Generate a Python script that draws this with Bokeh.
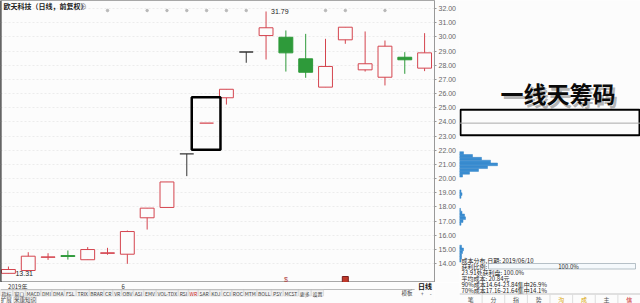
from bokeh.plotting import figure
from bokeh.layouts import row, column
from bokeh.models import (ColumnDataSource, FixedTicker, NumeralTickFormatter,
                          BoxAnnotation, Span, Range1d)
from bokeh.core.properties import value
from bokeh.embed import file_html
from bokeh.resources import INLINE

# ---------------- daily bars (forward-adjusted) ----------------
opens  = [13.31, 13.51, 14.44, 14.56, 14.27, 14.72, 14.66, 17.23, 17.96, 21.74, 23.91,
          25.70, 28.93, 30.09, 29.97, 28.45, 26.45, 29.79, 27.67, 27.15, 28.56, 27.79]
highs  = [13.79, 14.80, 14.73, 14.92, 15.16, 15.11, 16.33, 17.91, 19.76, 21.74, 23.91,
          26.30, 28.93, 31.79, 30.45, 30.21, 29.86, 30.68, 30.38, 29.74, 28.92, 30.26]
lows   = [13.31, 13.51, 14.26, 14.28, 14.27, 14.62, 13.98, 16.40, 17.96, 20.17, 23.91,
          25.22, 28.17, 28.40, 27.55, 27.11, 26.45, 29.51, 27.55, 26.57, 27.39, 27.58]
closes = [13.58, 14.52, 14.47, 14.50, 14.99, 14.76, 16.26, 17.91, 19.76, 21.74, 23.91,
          26.30, 28.93, 30.64, 28.87, 27.50, 27.91, 30.68, 28.10, 29.34, 28.38, 28.87]

date_ticks = [0, 6]
date_labels = ["2019年", "6"]
price_ticks = list(range(14, 33))

info_mark_idx = [5, 7, 8, 9, 10, 11, 12, 16, 17, 19]
dividend_idx = [14]
notice_idx = [17]

highlight_idx = 10
highlight_lo, highlight_hi = 22.03, 25.74

# ---------------- cost (chip) distribution on 2019/06/10 ----------------
chip_prices = [14.2, 14.4, 14.6, 14.8, 15.0, 15.2,
               16.8, 17.0, 17.2, 17.4, 17.6, 17.8,
               18.7, 18.9, 19.1,
               20.2, 20.4, 20.6, 20.8, 21.0, 21.2, 21.4, 21.6, 21.8]
chip_volume = [1.5, 2, 2, 3, 4, 2,
               1.5, 3.5, 6, 5, 2.5, 1,
               1.5, 2.5, 1.5,
               3, 10, 19, 28, 38, 31, 22, 13, 4]
chip_date = "2019/06/10"
chip_price = 23.91
chip_band = (23.05, 24.85)
profit_ratio = 100.0
avg_cost = 20.84
cost90 = (14.64, 23.84, 26.9)
cost70 = (17.16, 21.64, 14.1)

toolbar_items = ["指标", "窗口", "MACD", "DMI", "DMA", "FSL", "TRIX", "BRAR", "CR", "VR",
                 "OBV", "ASI", "EMV", "VOL-TDX", "RSI", "WR", "SAR", "KDJ", "CCI", "ROC",
                 "MTM", "BOLL", "PSY", "MCST", "更多", "设置"]
right_tabs = ["笔", "分", "指", "势", "沟", "成", "主", "信"]

# ---------------- layout constants ----------------
W, H = 640, 303
MAIN_W, MAIN_H = 459, 282
CHIP_W = W - MAIN_W
FRAME_W = 438
STEP = 20.0            # pixels per bar
X_START = -0.4
TOP_PRICE, TOP_PX, PX_PER = 32.0, 8.0, 14.17

UP, DOWN, FLAT = "#d4444e", "#2e9a3a", "#333333"
BG = "#fcfcfc"
CJK = value("Noto Sans CJK SC")
LAT = value("Liberation Sans")


def price_at(px):
    return TOP_PRICE - (px - TOP_PX) / PX_PER


def bx(px):
    return X_START + px / STEP


def bar_color(o, h, l, c):
    if c > o or h == l:
        return UP
    if c < o:
        return DOWN
    return FLAT


n = len(opens)
idx = list(range(n))
colors = [bar_color(o, h, l, c) for o, h, l, c in zip(opens, highs, lows, closes)]

# ---------------- main candlestick panel ----------------
p = figure(width=MAIN_W, height=MAIN_H,
           x_range=Range1d(X_START, X_START + FRAME_W / STEP),
           y_range=Range1d(price_at(MAIN_H), price_at(0)),
           x_axis_location=None, y_axis_location="right",
           toolbar_location=None, output_backend="svg", min_border=0,
           background_fill_color=BG, border_fill_color=BG,
           outline_line_color="#a8a8a8")
p.xgrid.visible = False
p.ygrid.ticker = FixedTicker(ticks=price_ticks)
p.ygrid.grid_line_color = "#ececec"
p.ygrid.grid_line_dash = "2 2"

ax = p.yaxis[0]
ax.ticker = FixedTicker(ticks=price_ticks)
ax.formatter = NumeralTickFormatter(format="0.00")
ax.major_label_text_font = "Liberation Sans"
ax.major_label_text_font_size = "7px"
ax.major_label_text_color = "#666666"
ax.major_label_standoff = 2
ax.major_tick_out = 2
ax.major_tick_in = 0
ax.minor_tick_out = 0
ax.minor_tick_in = 0
ax.axis_line_color = "#999999"
ax.major_tick_line_color = "#999999"

p.add_layout(Span(location=X_START, dimension="height", line_color="#222222", line_width=2))

# wicks
p.segment(x0=idx, y0=lows, x1=idx, y1=highs, line_color=colors, line_width=1)

# bodies
body = dict(x=[], top=[], bottom=[], line=[], fill=[])
flat = dict(x0=[], x1=[], y=[], color=[])
for i in idx:
    o, c, col = opens[i], closes[i], colors[i]
    if o != c:
        body["x"].append(i)
        body["top"].append(max(o, c))
        body["bottom"].append(min(o, c))
        body["line"].append(col)
        body["fill"].append(BG if col == UP else col)
    else:
        flat["x0"].append(i - 0.35)
        flat["x1"].append(i + 0.35)
        flat["y"].append(c)
        flat["color"].append(col)
p.vbar(x="x", top="top", bottom="bottom", width=0.7, source=ColumnDataSource(body),
       fill_color="fill", line_color="line", line_width=1)
p.segment(x0="x0", y0="y", x1="x1", y1="y", line_color="color", line_width=1.3,
          source=ColumnDataSource(flat))

# highest / lowest marks
hi_i = max(idx, key=lambda i: highs[i])
lo_i = min(idx, key=lambda i: lows[i])
p.text(x=[hi_i], y=[highs[hi_i]], text=[f"{highs[hi_i]:.2f}"], x_offset=5,
       text_font=LAT, text_font_size="7px", text_color="#222222",
       text_baseline="middle", text_align="left")
p.text(x=[lo_i], y=[lows[lo_i]], text=[f"{lows[lo_i]:.2f}"], x_offset=7,
       text_font=LAT, text_font_size="7px", text_color="#222222",
       text_baseline="middle", text_align="left")

# info dots along the top and event marks along the bottom
p.scatter(x=info_mark_idx, y=[price_at(10)] * len(info_mark_idx), size=2.5,
          color="#b8b8b8")
p.text(x=dividend_idx, y=[price_at(279)] * len(dividend_idx), text=["$"] * len(dividend_idx),
       text_font=LAT, text_font_size="7px", text_color="#b04040",
       text_align="center", text_baseline="middle")
p.scatter(x=notice_idx, y=[price_at(279)] * len(notice_idx), marker="square", size=6,
          fill_color="#c0392b", line_color="#7a1f1f")

# highlighted bar
p.add_layout(BoxAnnotation(left=highlight_idx - 0.75, right=highlight_idx + 0.7,
                           bottom=highlight_lo, top=highlight_hi,
                           fill_alpha=0, line_color="black", line_alpha=1,
                           line_width=2.5))

# title
p.text(x=[bx(3)], y=[price_at(5)], text=["欧天科技（日线，前复权）"], text_font=CJK,
       text_font_size="7px", text_font_style="bold", text_color="#222222",
       text_baseline="middle", text_align="left")
p.text(x=[bx(80)], y=[price_at(5)], text=["⊕"], text_font=CJK, text_font_size="7px",
       text_color="#777777", text_baseline="middle", text_align="left")

# ---------------- bottom strip: dates and indicator buttons ----------------
BH = H - MAIN_H
b = figure(width=MAIN_W, height=BH,
           x_range=Range1d(X_START, X_START + MAIN_W / STEP),
           y_range=Range1d(H, MAIN_H),
           x_axis_location=None, y_axis_location=None,
           toolbar_location=None, output_backend="svg", min_border=0,
           background_fill_color=BG, border_fill_color=BG, outline_line_color=None)
b.grid.visible = False

b.text(x=date_ticks, y=[285.5] * len(date_ticks), text=date_labels, text_font=CJK,
       text_font_size="6px", text_color="#333333", text_baseline="middle",
       text_align="left")
b.text(x=[bx(449)], y=[285.5], text=["日线"], text_font=CJK, text_font_size="7px",
       text_font_style="bold", text_color="#111111", text_baseline="middle",
       text_align="center")
b.segment(x0=[bx(0)], y0=[289], x1=[bx(FRAME_W)], y1=[289], line_color="#bbbbbb")


def char_w(ch):
    if ord(ch) > 255:
        return 5.0
    if ch in "MW":
        return 3.8
    if ch in "I":
        return 1.5
    if ch == "-":
        return 2.0
    return 3.0


lefts, rights, centers = [], [], []
cur = 0.0
for item in toolbar_items:
    w = sum(char_w(ch) for ch in item) + 3.4
    lefts.append(bx(cur))
    rights.append(bx(cur + w - 0.6))
    centers.append(bx(cur + w / 2 - 0.3))
    cur += w
b.quad(left=lefts, right=rights, bottom=[295.5] * len(lefts), top=[289.5] * len(lefts),
       fill_color="#f3f3f3", line_color="#cfcfcf", line_width=0.6)
b.text(x=centers, y=[292.6] * len(centers), text=toolbar_items, text_font=CJK,
       text_font_size="5px",
       text_color=["#cc2222" if t == "WR" else "#444444" for t in toolbar_items],
       text_align="center", text_baseline="middle")
b.text(x=[bx(430), bx(446), bx(455)], y=[292.6] * 3, text=["模板", "+", "-"], text_font=CJK,
       text_font_size="5.5px", text_color="#444444", text_align="center",
       text_baseline="middle")
b.quad(left=[bx(14)], right=[bx(38)], bottom=[302.5], top=[296.5],
       fill_color="#f3f3f3", line_color="#cfcfcf", line_width=0.6)
b.text(x=[bx(6), bx(26)], y=[299.6] * 2, text=["扩展", "米康知识"], text_font=CJK,
       text_font_size="5.5px", text_color="#444444", text_align="center",
       text_baseline="middle")

# ---------------- cost distribution panel ----------------
c = figure(width=CHIP_W, height=H,
           x_range=Range1d(0, CHIP_W), y_range=Range1d(price_at(H), price_at(0)),
           x_axis_location=None, y_axis_location=None,
           toolbar_location=None, output_backend="svg", min_border=0,
           background_fill_color=BG, border_fill_color=BG, outline_line_color=None)
c.grid.visible = False

c.hbar(y=chip_prices, left=0, right=chip_volume, height=0.19,
       fill_color="#3b8ed2", line_color="#3584c6", line_width=0.5)

c.add_layout(BoxAnnotation(left=1, right=CHIP_W - 1, bottom=chip_band[0], top=chip_band[1],
                           fill_alpha=0, line_color="black", line_alpha=1, line_width=2))
c.add_layout(Span(location=chip_price, dimension="width", line_color="#aaaaaa", line_width=1))

# caption with soft shadow
c.text(x=[101], y=[price_at(95)], text=["一线天筹码"], text_font=CJK, text_font_size="23px",
       text_font_style="bold", text_color="#777777", text_alpha=0.55,
       text_align="center", text_baseline="middle")
c.text(x=[98.5], y=[price_at(92)], text=["一线天筹码"], text_font=CJK, text_font_size="23px",
       text_font_style="bold", text_color="#0a0a0a",
       text_align="center", text_baseline="middle")

info_lines = [
    f"成本分布,日期: {chip_date}",
    "获利比例:",
    f"{chip_price:.2f}处获利盘: {profit_ratio:.1f}%",
    f"平均成本:   {avg_cost:.2f}元",
    f"90%成本{cost90[0]:.2f}-{cost90[1]:.2f}集中{cost90[2]:.1f}%",
    f"70%成本{cost70[0]:.2f}-{cost70[1]:.2f}集中{cost70[2]:.1f}%",
]
info_tops = [259.5, 265.8, 271.8, 278.0, 284.2, 290.2]
c.text(x=[2] * len(info_lines), y=[price_at(t) for t in info_tops], text=info_lines,
       text_font=CJK, text_font_size="6px", text_color="#222222",
       text_align="left", text_baseline="middle")
c.quad(left=[29], right=[176], bottom=[price_at(268.5)], top=[price_at(263)],
       fill_color="#f5f9fc", line_color="#9aa6b0", line_width=0.7)
c.text(x=[109], y=[price_at(265.8)], text=[f"{profit_ratio:.1f}%"], text_font=CJK,
       text_font_size="6px", text_color="#222222", text_align="center",
       text_baseline="middle")

# tab strip
cell = CHIP_W / len(right_tabs)
c.segment(x0=[0], y0=[price_at(293.5)], x1=[CHIP_W], y1=[price_at(293.5)],
          line_color="#c4c4c4")
c.segment(x0=[k * cell for k in range(1, len(right_tabs))],
          y0=[price_at(293.5)] * (len(right_tabs) - 1),
          x1=[k * cell for k in range(1, len(right_tabs))],
          y1=[price_at(H)] * (len(right_tabs) - 1), line_color="#dddddd")
tab_colors = ["#555555"] * len(right_tabs)
tab_colors[4] = "#d9a400"
tab_colors[5] = "#d9a400"
tab_colors[7] = "#cc2222"
c.text(x=[(k + 0.5) * cell for k in range(len(right_tabs))],
       y=[price_at(298.5)] * len(right_tabs), text=right_tabs, text_font=CJK,
       text_font_size="6px", text_color=tab_colors, text_align="center",
       text_baseline="middle")

layout = row(column(p, b, spacing=0), c, spacing=0)

open("out.html", "w").write(file_html(layout, INLINE))
